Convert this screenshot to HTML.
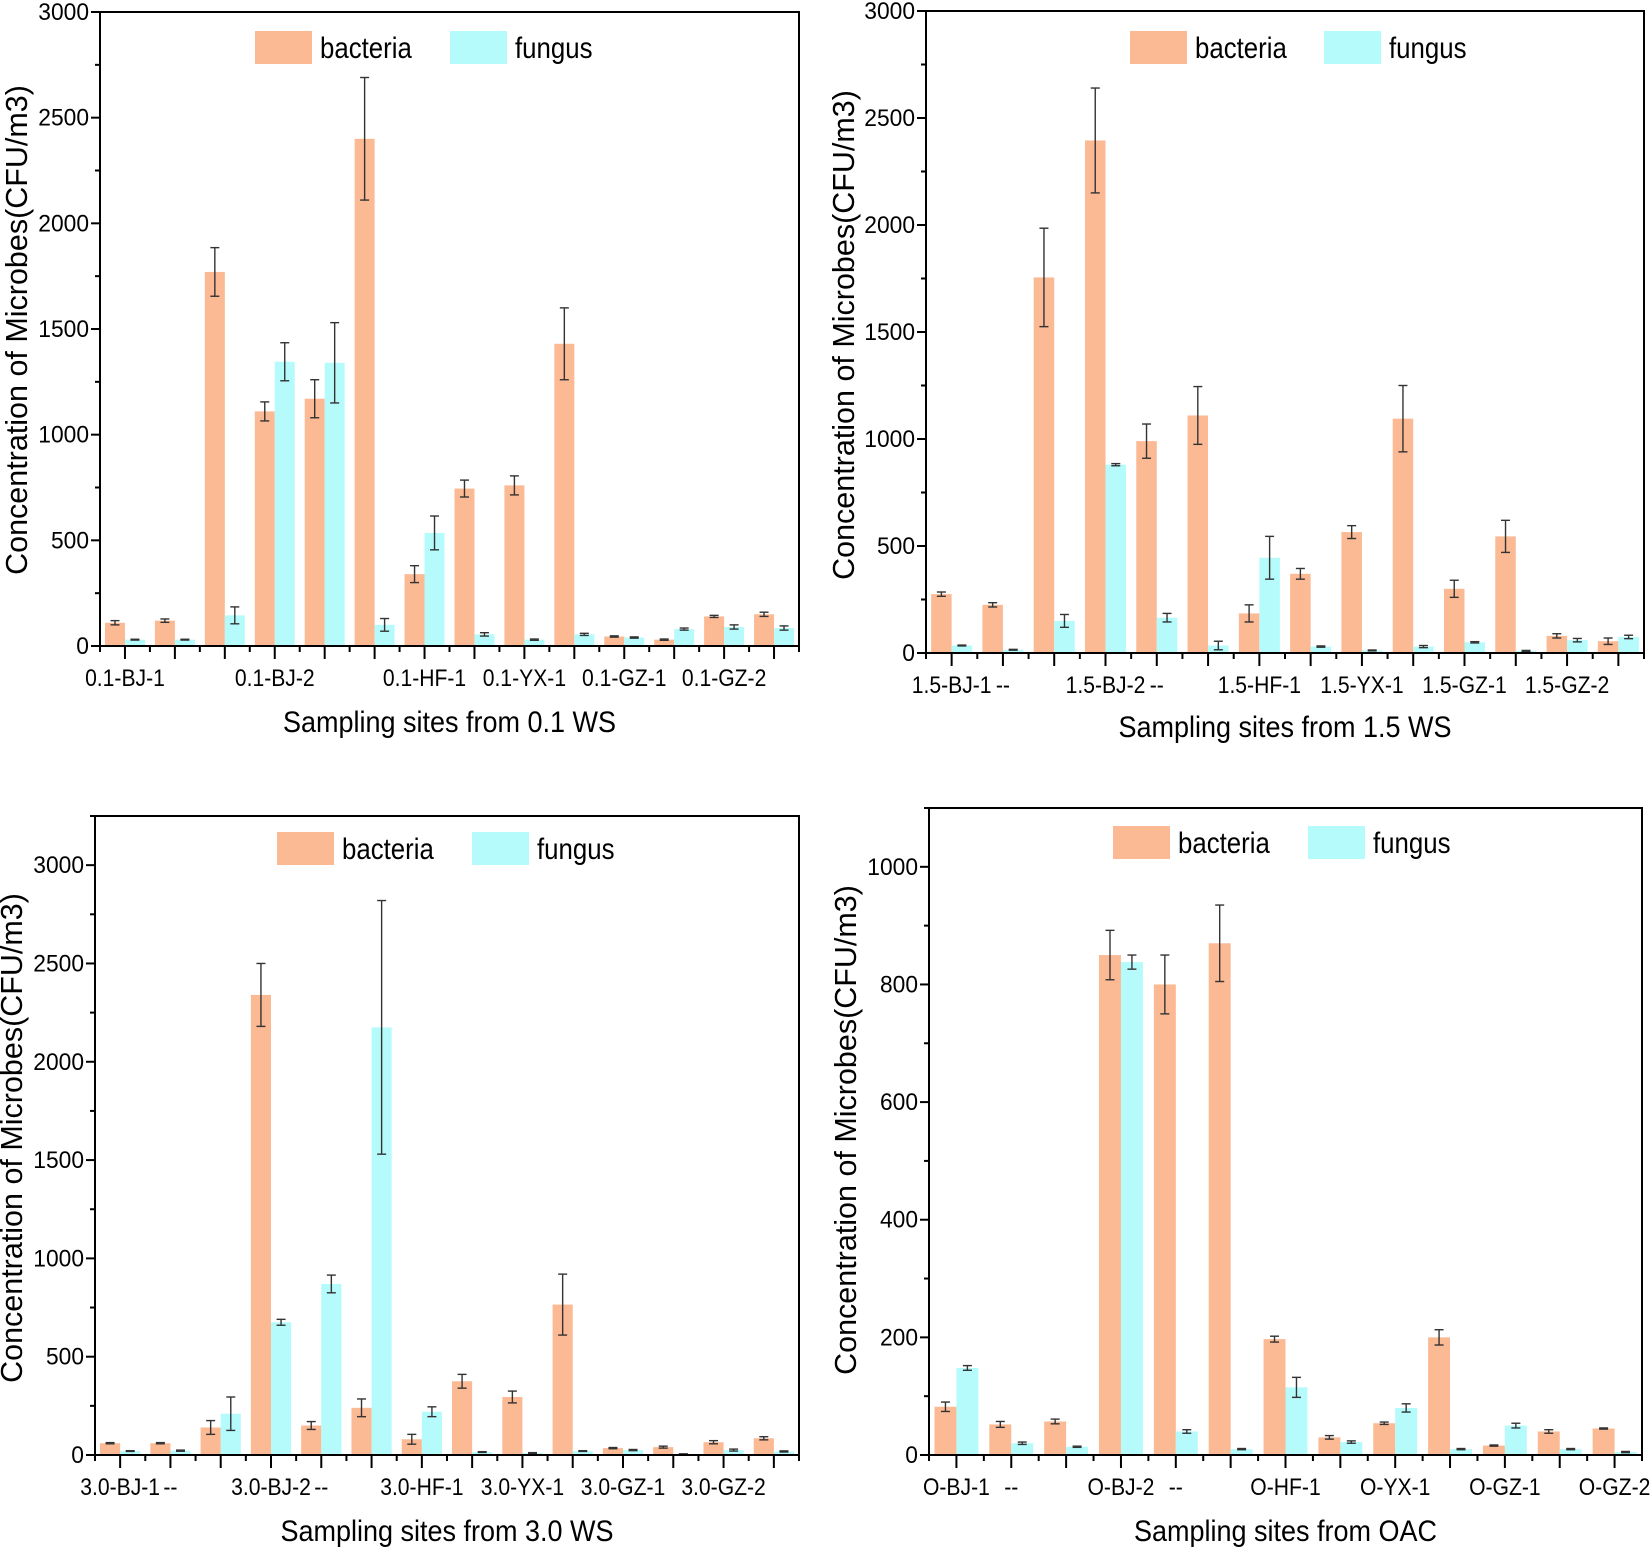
<!DOCTYPE html>
<html><head><meta charset="utf-8"><style>
html,body{margin:0;padding:0;background:#fff;}
svg{display:block;font-family:"Liberation Sans",Arial,sans-serif;}
</style></head><body>
<svg id="fig" width="1650" height="1548" viewBox="0 0 1650 1548" xmlns="http://www.w3.org/2000/svg"></svg>
<script>
// ---------- data ----------
const labels01 = ["0.1-BJ-1","","","0.1-BJ-2","","","0.1-HF-1","","0.1-YX-1","","0.1-GZ-1","","0.1-GZ-2",""];
const bact01 = [110,120,1770,1110,1170,2400,340,745,760,1430,45,30,140,150];
const bactErr01 = [10,8,115,45,90,290,40,40,45,170,3,3,5,10];
const fung01 = [30,30,145,1345,1340,100,535,55,30,55,40,80,90,85];
const fungErr01 = [2,2,40,90,190,30,80,8,3,5,3,5,10,10];

const labels15 = ["1.5-BJ-1","--","","1.5-BJ-2","--","","1.5-HF-1","","1.5-YX-1","","1.5-GZ-1","","1.5-GZ-2",""];
const bact15 = [275,225,1755,2395,990,1110,185,370,565,1095,300,545,80,55];
const bactErr15 = [10,10,230,245,80,135,40,25,30,155,40,75,10,15];
const fung15 = [35,15,150,880,165,35,445,30,12,30,50,10,60,75];
const fungErr15 = [2,2,30,5,20,20,100,3,2,5,3,2,8,8];

const labels30 = ["3.0-BJ-1","--","","3.0-BJ-2","--","","3.0-HF-1","","3.0-YX-1","","3.0-GZ-1","","3.0-GZ-2",""];
const bact30 = [60,60,140,2340,150,240,80,375,295,765,35,40,65,85];
const bactErr30 = [3,3,35,160,20,45,25,35,30,155,3,5,8,8];
const fung30 = [20,22,210,675,870,2175,220,15,10,20,25,5,25,18];
const fungErr30 = [2,3,85,15,45,645,25,2,2,2,3,1,5,3];

const labelsO = ["O-BJ-1","--","","O-BJ-2","--","","O-HF-1","","O-YX-1","","O-GZ-1","","O-GZ-2"];
const bactO = [82,52,57,850,800,870,197,30,54,200,16,40,45];
const bactErrO = [8,5,4,42,50,65,5,3,2,13,1,3,1];
const fungO = [148,20,14,838,40,10,115,22,80,10,50,10,5];
const fungErrO = [4,2,1,12,3,1,17,2,7,1,4,1,1];

const yTicks3000 = [0,500,1000,1500,2000,2500,3000];
const yTicks1000 = [0,200,400,600,800,1000];

// ---------- drawing ----------
const NS = "http://www.w3.org/2000/svg";
const svg = document.getElementById("fig");
const BCOL = "#FBB994", FCOL = "#B5FBFB";
function mk(tag, attrs, parent){
  const e = document.createElementNS(NS, tag);
  for (const k in attrs) e.setAttribute(k, attrs[k]);
  (parent||svg).appendChild(e);
  return e;
}
function condense(t, f){ const w = t.getComputedTextLength(); t.setAttribute("textLength", (w*f).toFixed(1)); t.setAttribute("lengthAdjust","spacingAndGlyphs"); }

function panel(p){
  const g = mk("g", {});
  
  
  const n = p.bact.length;
  const gw = (p.R - p.L) / n;
  const bw = gw * 0.4;
  const xc = i => p.L + gw * (i + 0.5);
  const y = v => p.B - (v / p.ymax) * (p.B - p.T);

  for (let i = 0; i < n; i++){
    const rb = mk("rect", {x: xc(i)-bw, y: y(p.bact[i]), width: bw, height: p.B - y(p.bact[i]), fill: BCOL}, g);
    
    
    const rf = mk("rect", {x: xc(i), y: y(p.fung[i]), width: bw, height: p.B - y(p.fung[i]), fill: FCOL}, g);
    
    
  }
  function err(cx, v, e){
    const eg = mk("g", {stroke:"#333", "stroke-width":1.4, fill:"none"}, g);
    
    
    mk("line", {x1:cx, x2:cx, y1:y(v+e), y2:y(v-e)}, eg);
    mk("line", {x1:cx-4.5, x2:cx+4.5, y1:y(v+e), y2:y(v+e)}, eg);
    mk("line", {x1:cx-4.5, x2:cx+4.5, y1:y(v-e), y2:y(v-e)}, eg);
  }
  for (let i = 0; i < n; i++){
    err(xc(i)-bw/2, p.bact[i], p.bactErr[i]);
    err(xc(i)+bw/2, p.fung[i], p.fungErr[i]);
  }
  const fr = mk("rect", {x:p.L, y:p.T, width:p.R-p.L, height:p.B-p.T, fill:"none", stroke:"#000", "stroke-width":2}, g);
  
  
  const step = p.yTicks[1] - p.yTicks[0];
  for (let v = 0; v <= p.ymax + 0.001; v += step/2){
    const major = p.yTicks.indexOf(v) >= 0;
    mk("line", {x1:p.L - (major?9:5), x2:p.L, y1:y(v), y2:y(v), stroke:"#000", "stroke-width":2}, g);
  }
  p.yTicks.forEach(v => {
    const t = mk("text", {x:p.L-11, y:y(v)+8, "text-anchor":"end", "font-size":24, fill:"#000"}, g);
    t.textContent = v;
    
    
    condense(t, 0.95);
  });
  for (let i = 0; i < n; i++){
    mk("line", {x1:xc(i), x2:xc(i), y1:p.B, y2:p.B+13, stroke:"#000", "stroke-width":2}, g);
    mk("line", {x1:xc(i)-gw/2, x2:xc(i)-gw/2, y1:p.B, y2:p.B+6, stroke:"#000", "stroke-width":2}, g);
  }
  mk("line", {x1:p.R, x2:p.R, y1:p.B, y2:p.B+6, stroke:"#000", "stroke-width":2}, g);
  p.labels.forEach((s, i) => {
    if (!s) return;
    const t = mk("text", {x:xc(i), y:p.B+40, "text-anchor":"middle", "font-size":24, fill:"#000"}, g);
    t.textContent = s;
    
    
    condense(t, 0.88);
  });
  const xt = mk("text", {x:(p.L+p.R)/2, y:p.xtY, "text-anchor":"middle", "font-size":30, fill:"#000"}, g);
  xt.textContent = p.xTitle;
  
  
  condense(xt, 0.9);
  const yt = mk("text", {x:0, y:0, "text-anchor":"middle", "font-size":30.5, fill:"#000", transform:`translate(${p.ytX},${p.ytY}) rotate(-90)`}, g);
  yt.textContent = "Concentration of Microbes(CFU/m3)";
  
  
  const lg = mk("g", {}, g);
  
  
  const lb = mk("rect", {x:p.lx1, y:p.ly, width:57, height:33, fill:BCOL}, lg);
  
  
  const lbt = mk("text", {x:p.lx1+65, y:p.ly+27, "font-size":30, fill:"#000"}, lg);
  lbt.textContent = "bacteria";
  
  
  condense(lbt, 0.86);
  const lf = mk("rect", {x:p.lx2, y:p.ly, width:57, height:33, fill:FCOL}, lg);
  
  
  const lft = mk("text", {x:p.lx2+65, y:p.ly+27, "font-size":30, fill:"#000"}, lg);
  lft.textContent = "fungus";
  
  
  condense(lft, 0.86);
}

panel({name:"chart-0-1-ws", L:100, R:799, T:12, B:646, ymax:3000, yTicks:yTicks3000,
  bact:bact01, bactErr:bactErr01, fung:fung01, fungErr:fungErr01, labels:labels01,
  xTitle:"Sampling sites from 0.1 WS", xtY:732, ytX:27, ytY:330, lx1:255, lx2:450, ly:31});
panel({name:"chart-1-5-ws", L:926, R:1644, T:11, B:653, ymax:3000, yTicks:yTicks3000,
  bact:bact15, bactErr:bactErr15, fung:fung15, fungErr:fungErr15, labels:labels15,
  xTitle:"Sampling sites from 1.5 WS", xtY:737, ytX:854, ytY:335, lx1:1130, lx2:1324, ly:31});
panel({name:"chart-3-0-ws", L:95, R:799, T:816, B:1455, ymax:3250, yTicks:yTicks3000,
  bact:bact30, bactErr:bactErr30, fung:fung30, fungErr:fungErr30, labels:labels30,
  xTitle:"Sampling sites from 3.0 WS", xtY:1541, ytX:22, ytY:1138, lx1:277, lx2:472, ly:832});
panel({name:"chart-oac", L:929, R:1642, T:808, B:1455, ymax:1100, yTicks:yTicks1000,
  bact:bactO, bactErr:bactErrO, fung:fungO, fungErr:fungErrO, labels:labelsO,
  xTitle:"Sampling sites from OAC", xtY:1541, ytX:856, ytY:1130, lx1:1113, lx2:1308, ly:826});
</script>
</body></html>
